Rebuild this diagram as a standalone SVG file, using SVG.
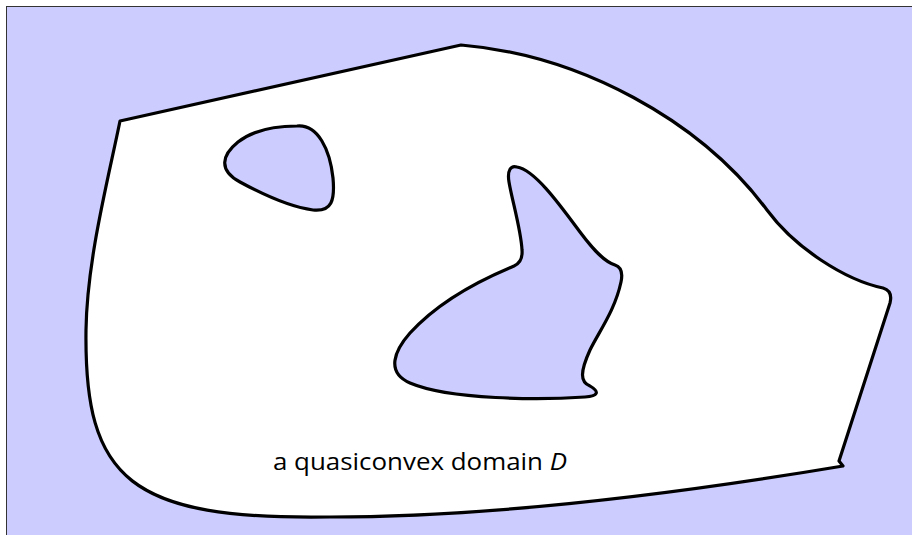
<svg xmlns="http://www.w3.org/2000/svg" width="912" height="535" viewBox="0 0 912 535">
<style>
.bg{fill:#ccccff;stroke:#333;stroke-width:1}
.line{stroke:#000;stroke-width:3.2;stroke-linejoin:round}
.dom{fill:#fff}
.hole{fill:#ccccff}
.lbl{font-family:"Open Sans","Liberation Sans",sans-serif;font-size:24px;fill:#000}
</style>
<rect class="bg" x="6.5" y="6.5" width="920" height="540"/>
<g id="domain">
<path class="dom line" d="M120,121 L461,45 C580,55 700,120 767,210 C795,248 845,280 883,288 Q893,291 890,303 L839,461 L843,466 C700,490 500,517 330,517 C130,520 84,480 86,330 C87,260 108,180 120,121 Z"/>
</g>
<g id="hole1">
<path class="hole line" d="M297,126 C318,124 330,150 333,178 C335,200 332,212 313,210 C290,207 262,194 240,182 C218,170 222,155 238,142 C256,128 280,126 297,126 Z"/>
</g>
<g id="hole2">
<path class="hole line" d="M517,167 C535,170 560,205 580,232 C595,252 605,262 615,265 Q624,268 621,282 C615,310 600,330 590,350 C580,372 580,382 590,386 C600,392 598,396 585,397 C540,400 450,400 410,383 C385,372 395,350 410,333 C440,300 480,280 514,266 Q523,262 522,250 C521,230 512,200 509,182 C507,170 511,165 517,167 Z"/>
</g>
<g id="label">
<text class="lbl" x="273" y="470" textLength="294" lengthAdjust="spacingAndGlyphs">a quasiconvex domain <tspan font-style="italic">D</tspan></text>
</g>
</svg>
